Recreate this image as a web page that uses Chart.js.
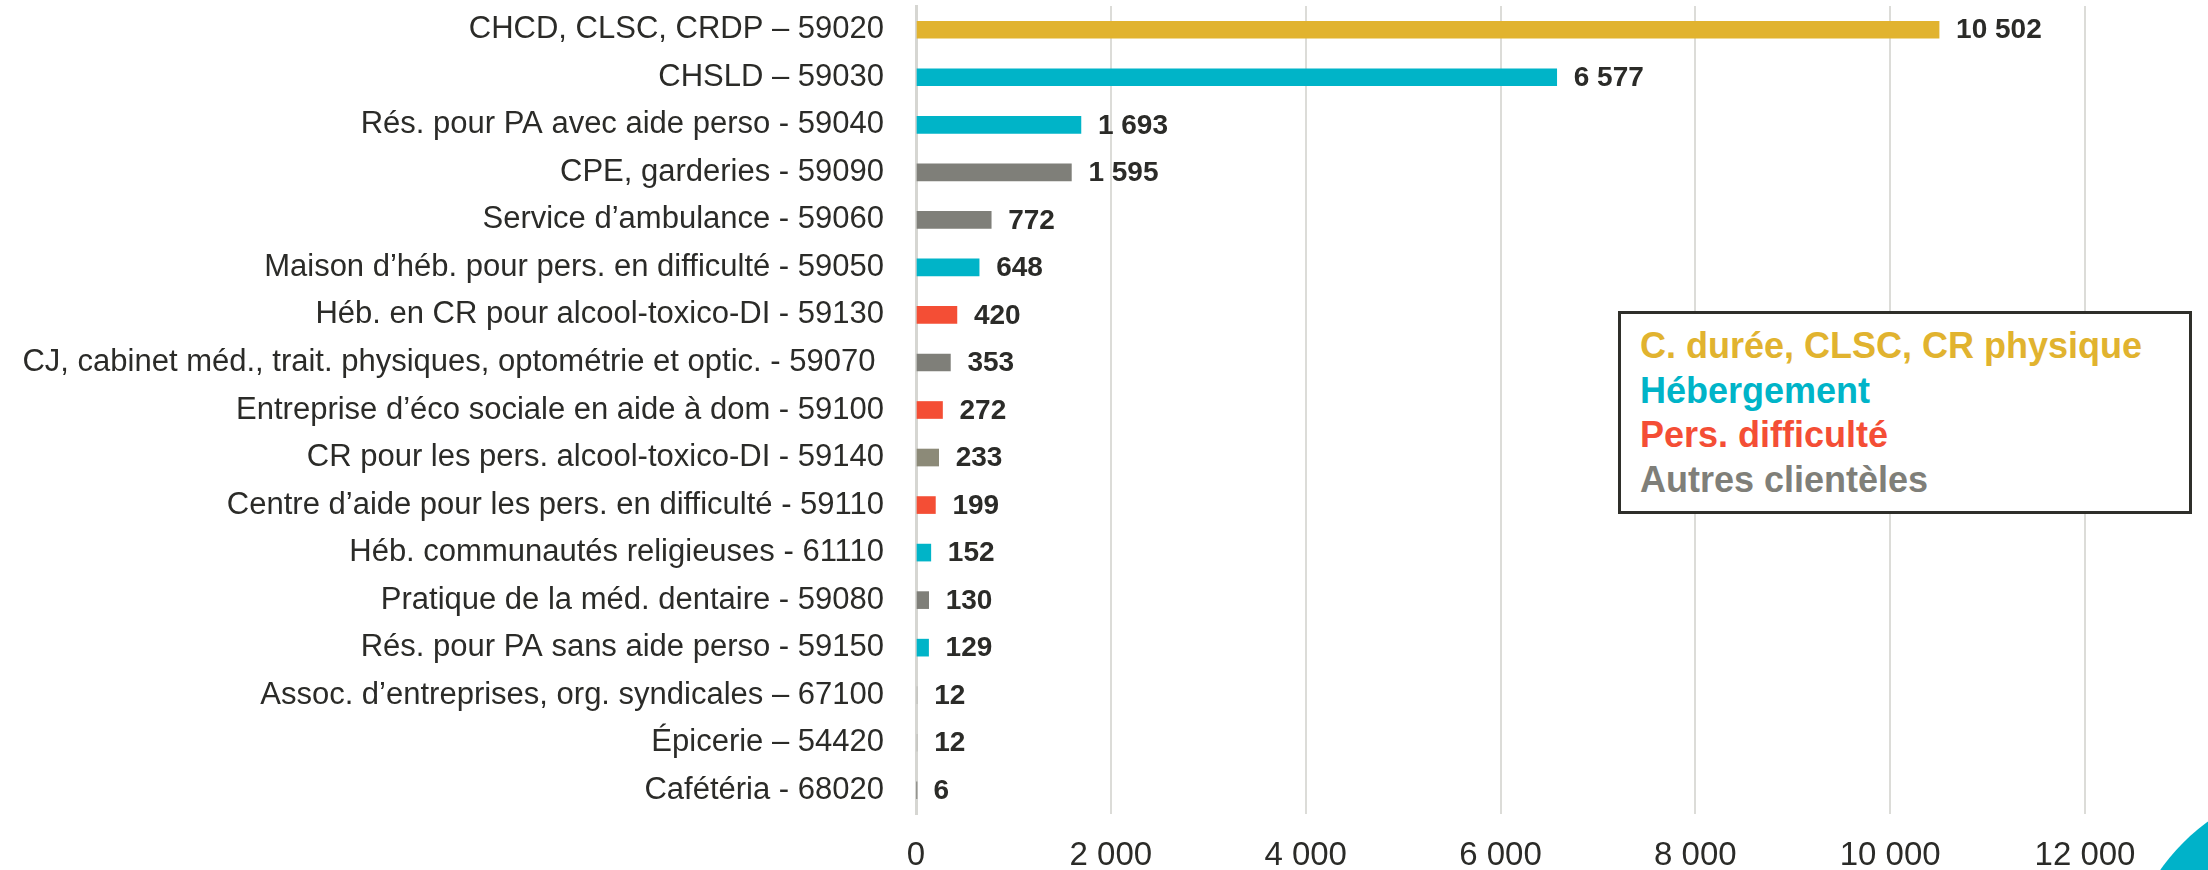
<!DOCTYPE html>
<html lang="fr">
<head>
<meta charset="utf-8">
<title>Répartition par secteur</title>
<script src="https://cdn.jsdelivr.net/npm/chart.js@4/dist/chart.umd.min.js"></script>
<style>
    html, body { margin: 0; padding: 0; background: #ffffff; }
    #wrap { position: relative; width: 2208px; height: 870px; overflow: hidden; }
    #legendBox {
        position: absolute; left: 1618px; top: 311px; width: 574px; height: 203px;
        border: 3px solid #2f2f2a; background: #ffffff; box-sizing: border-box;
        font-family: 'Liberation Sans Narrow', 'Liberation Sans', sans-serif;
        font-weight: bold; font-size: 36px; line-height: 44.5px;
        padding: 10px 0 0 19px;
    }
    #legendBox div { white-space: nowrap; }
    #corner {
        position: absolute; left: 2122px; top: 782px; width: 416px; height: 416px;
        background: #00b2c9; border-radius: 50%;
    }
</style>
</head>
<body>
<div id="wrap">
    <canvas id="chart" width="2208" height="870"></canvas>
    <div id="legendBox"></div>
    <div id="corner"></div>
</div>
<script>
// categories (top to bottom)
const sectors = [
    'CHCD, CLSC, CRDP – 59020',
    'CHSLD – 59030',
    'Rés. pour PA avec aide perso - 59040',
    'CPE, garderies - 59090',
    'Service d’ambulance - 59060',
    'Maison d’héb. pour pers. en difficulté - 59050',
    'Héb. en CR pour alcool-toxico-DI - 59130',
    'CJ, cabinet méd., trait. physiques, optométrie et optic. - 59070 ',
    'Entreprise d’éco sociale en aide à dom - 59100',
    'CR pour les pers. alcool-toxico-DI - 59140',
    'Centre d’aide pour les pers. en difficulté - 59110',
    'Héb. communautés religieuses - 61110',
    'Pratique de la méd. dentaire - 59080',
    'Rés. pour PA sans aide perso - 59150',
    'Assoc. d’entreprises, org. syndicales – 67100',
    'Épicerie – 54420',
    'Cafétéria - 68020'
];

const counts = [10502, 6577, 1693, 1595, 772, 648, 420, 353, 272, 233, 199, 152, 130, 129, 12, 12, 6];

// group each sector belongs to
const sectorGroups = [
    'duree', 'heb', 'heb', 'autres', 'autres', 'heb', 'pers', 'autres', 'pers',
    'autres', 'pers', 'heb', 'autres', 'heb', 'autres', 'autres', 'autres'
];

const groupKeys = ['duree', 'heb', 'pers', 'autres'];
const groupNames = ['C. durée, CLSC, CR physique', 'Hébergement', 'Pers. difficulté', 'Autres clientèles'];

const xTicks = [0, 2000, 4000, 6000, 8000, 10000, 12000];

// styles
const groupColors = { duree: '#e1b32f', heb: '#00b4c8', pers: '#f44e35', autres: '#7f7f79' };
const shadeOverride = { 9: '#8c8a78', 14: '#b8b8b2', 15: '#b8b8b2' };
const textColor = '#2b2b28';
const narrow = "'Liberation Sans Narrow', 'Liberation Sans', sans-serif";

function fmt(v) {
    return String(v).replace(/\B(?=(\d{3})+(?!\d))/g, ' ');
}

const barColors = sectorGroups.map((g, i) => shadeOverride[i] || groupColors[g]);

// value labels at bar ends
const valueLabels = {
    id: 'valueLabels',
    afterDatasetsDraw(chart) {
        const ctx = chart.ctx;
        const meta = chart.getDatasetMeta(0);
        ctx.save();
        ctx.font = "bold 28px 'Liberation Sans', sans-serif";
        ctx.fillStyle = textColor;
        ctx.textAlign = 'left';
        ctx.textBaseline = 'middle';
        meta.data.forEach((bar, i) => {
            ctx.fillText(fmt(counts[i]), bar.x + 17, bar.y + 1);
        });
        ctx.restore();
    }
};

new Chart(document.getElementById('chart'), {
    type: 'bar',
    data: {
        labels: sectors,
        datasets: [{
            data: counts,
            backgroundColor: barColors,
            borderWidth: 0,
            barThickness: 17
        }]
    },
    options: {
        indexAxis: 'y',
        responsive: false,
        animation: false,
        layout: { padding: { top: 6, right: 123, left: 0, bottom: 0 } },
        plugins: {
            legend: { display: false },
            tooltip: { enabled: false }
        },
        scales: {
            x: {
                min: 0,
                max: 12000,
                afterFit: s => { s.height = 56; },
                afterBuildTicks: s => { s.ticks = xTicks.map(v => ({ value: v })); },
                grid: { color: '#dcdcd8', lineWidth: 2, drawTicks: false },
                border: { display: false },
                ticks: {
                    padding: 22,
                    color: textColor,
                    font: { family: narrow, size: 33 },
                    callback: v => fmt(v)
                }
            },
            y: {
                afterFit: s => { s.width = 916; s.paddingTop = 0; s.paddingBottom = 0; },
                grid: { display: false, drawTicks: false },
                border: { display: true, color: '#d6d6d2', width: 3 },
                ticks: {
                    padding: 32,
                    color: textColor,
                    autoSkip: false,
                    font: { family: narrow, size: 31 }
                }
            }
        }
    },
    plugins: [valueLabels]
});

// legend box
const box = document.getElementById('legendBox');
groupKeys.forEach((k, i) => {
    const d = document.createElement('div');
    d.textContent = groupNames[i];
    d.style.color = groupColors[k];
    box.appendChild(d);
});
</script>
</body>
</html>
